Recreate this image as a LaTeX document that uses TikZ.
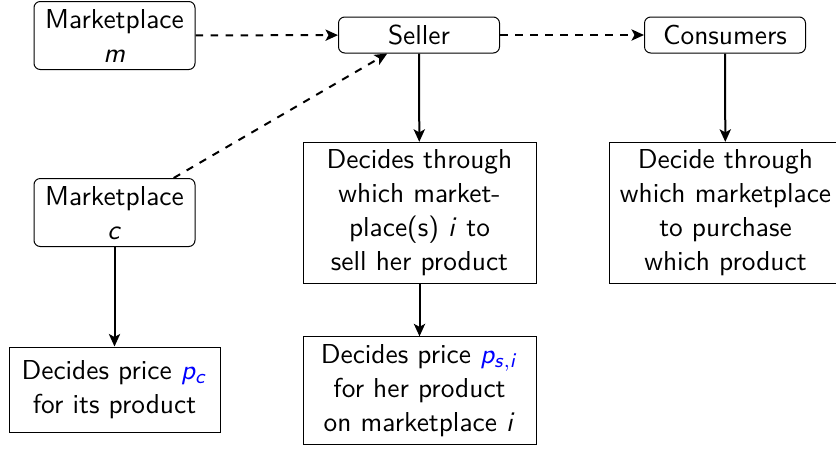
\documentclass[tikz,border=0pt]{standalone}
\usetikzlibrary{arrows.meta}
\renewcommand{\familydefault}{\sfdefault}
\DeclareMathAlphabet{\mathsl}{OT1}{cmss}{m}{sl}
\newcommand{\sv}[1]{$\mathsl{#1}$}

\begin{document}
\begin{tikzpicture}[x=1pt, y=1pt,
    font=\fontsize{10.95}{13.6}\selectfont,
    actor/.style={draw, rounded corners=2.5pt, align=center, inner sep=3pt,
        minimum width=64.4pt, minimum height=14.4pt},
    task/.style={draw, align=center, inner sep=3pt, text width=87.2pt},
    flow/.style={-{Stealth[length=5pt, width=4.5pt, inset=1.2pt]}, thick},
    info/.style={flow, dashed}]
    \useasboundingbox (0,0) rectangle (334.4,-180);

    % agents
    \node[actor] (mktm) at (45.8,-14.2) {Marketplace\\ \sv{m}};
    \node[actor] (seller) at (167.6,-14) {Seller};
    \node[actor] (cons) at (290,-14) {Consumers};
    \node[actor] (mktc) at (45.8,-85) {Marketplace\\ \sv{c}};

    % decisions
    \node[task] (sdec) at (167.8,-85.2) {Decides through\\ which market-\\ place(s) \sv{i} to\\ sell her product};
    \node[task] (cdec) at (290.2,-85.2) {Decide through\\ which marketplace\\ to purchase\\ which product};
    \node[task, text width=78.4pt, minimum height=34pt] (pricec) at (45.8,-155.8)
        {Decides price \textcolor{blue}{$\mathsl{p}_{\mathsl{c}}$}\\ for its product};
    \node[task] (prices) at (167.8,-156.2)
        {Decides price \textcolor{blue}{$\mathsl{p}_{\mathsl{s,i}}$}\\ for her product\\ on marketplace \sv{i}};

    \draw[info] (mktm) -- (seller);
    \draw[info] (seller) -- (cons);
    \draw[info] (mktc) -- (seller);

    \draw[flow] (seller) -- (sdec);
    \draw[flow] (cons) -- (cdec);
    \draw[flow] (sdec) -- (prices);
    \draw[flow] (mktc) -- (pricec);
\end{tikzpicture}
\end{document}
